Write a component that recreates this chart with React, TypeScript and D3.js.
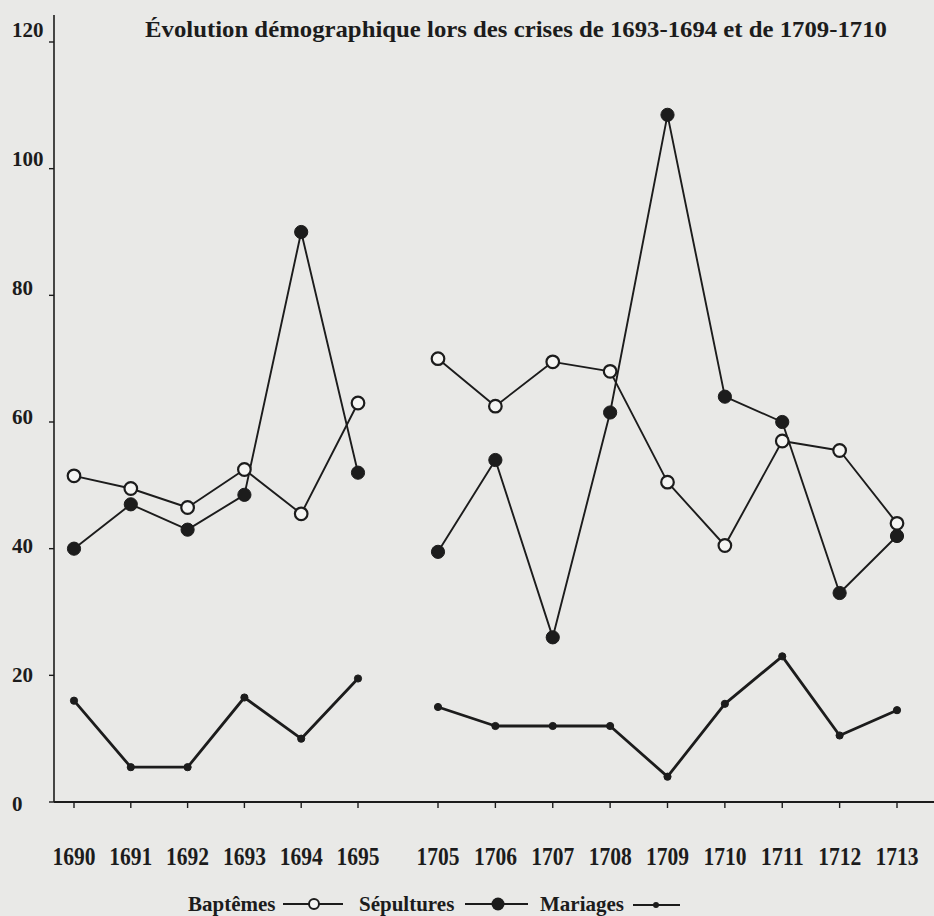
import React from 'react';
import * as d3 from 'd3';

const years = [1690, 1691, 1692, 1693, 1694, 1695, 1705, 1706, 1707, 1708, 1709, 1710, 1711, 1712, 1713];
const baptemes = [51.5, 49.5, 46.5, 52.5, 45.5, 63, 70, 62.5, 69.5, 68, 50.5, 40.5, 57, 55.5, 44];
const sepultures = [40, 47, 43, 48.5, 90, 52, 39.5, 54, 26, 61.5, 108.5, 64, 60, 33, 42];
const mariages = [16, 5.5, 5.5, 16.5, 10, 19.5, 15, 12, 12, 12, 4, 15.5, 23, 10.5, 14.5];
const yTicks = [0, 20, 40, 60, 80, 100, 120];
const title = 'Évolution démographique lors des crises de 1693-1694 et de 1709-1710';
const legendLabels = ['Baptêmes', 'Sépultures', 'Mariages'];

const W = 934;
const H = 916;
const FONT = '"Liberation Serif", "Times New Roman", serif';
const INK = '#1c1c1c';
const PAPER = '#e9e9e7';

export default function App() {
  const x = d3.scaleLinear().domain([1690, 1695, 1705, 1713]).range([74, 358, 438, 897]);
  const y = d3.scaleLinear().domain([0, 120]).range([802, 42]);
  // the printed tick labels sit on a slightly wider spacing than the tick marks
  const yLabel = d3.scaleLinear().domain([0, 120]).range([804, 30]);

  const periods = [
    years.map((yr, i) => i).filter((i) => years[i] < 1700),
    years.map((yr, i) => i).filter((i) => years[i] > 1700),
  ];

  const lineFor = (vals: number[]) => (idx: number[]) =>
    d3.line<number>().x((i) => x(years[i])).y((i) => y(vals[i]))(idx) || '';

  const series = [
    { vals: baptemes, kind: 'open' },
    { vals: sepultures, kind: 'filled' },
    { vals: mariages, kind: 'dot' },
  ];

  return (
    <svg width={W} height={H} style={{ position: 'absolute', left: 0, top: 0 }} fontFamily={FONT}>
      <rect x={0} y={0} width={W} height={H} fill={PAPER} />
      {/* title */}
      <text x={516} y={37} textAnchor="middle" fontSize={23} fontWeight="bold" fill={INK}
        textLength={742} lengthAdjust="spacingAndGlyphs">{title}</text>

      {/* axes */}
      <line x1={54} y1={15} x2={54} y2={y(0)} stroke={INK} strokeWidth={1.6} />
      <line x1={54} y1={y(0)} x2={W} y2={y(0)} stroke={INK} strokeWidth={1.8} />
      {yTicks.map((t) => (
        <g key={t}>
          <line x1={49} x2={54} y1={y(t)} y2={y(t)} stroke={INK} strokeWidth={1.4} />
          <text x={12} y={yLabel(t)} dominantBaseline="central" fontSize={21} fontWeight="bold" fill={INK}
            transform={`translate(0 0)`}>{t}</text>
        </g>
      ))}
      {years.map((yr) => (
        <g key={yr}>
          <line x1={x(yr)} x2={x(yr)} y1={y(0)} y2={y(0) + 6} stroke={INK} strokeWidth={1.4} />
          <text x={x(yr)} y={865} textAnchor="middle" fontSize={25} fontWeight="bold" fill={INK}
            textLength={43} lengthAdjust="spacingAndGlyphs">{yr}</text>
        </g>
      ))}

      {/* lines */}
      {series.map((s, si) =>
        periods.map((p, pi) => (
          <path key={`${si}-${pi}`} d={lineFor(s.vals)(p)} fill="none" stroke={INK}
            strokeWidth={s.kind === 'dot' ? 2.8 : 1.9} strokeLinejoin="round" />
        ))
      )}
      {/* markers */}
      {series.map((s, si) =>
        s.vals.map((v, i) => (
          <circle key={`m${si}-${i}`} cx={x(years[i])} cy={y(v)}
            r={s.kind === 'dot' ? 3.6 : s.kind === 'filled' ? 6.6 : 6.3}
            fill={s.kind === 'open' ? '#f5f5f3' : INK}
            stroke={INK} strokeWidth={s.kind === 'open' ? 2.2 : 1} />
        ))
      )}

      {/* legend */}
      <g fontSize={21} fontWeight="bold" fill={INK}>
        <text x={188} y={911}>{legendLabels[0]}</text>
        <line x1={283} x2={343} y1={904} y2={904} stroke={INK} strokeWidth={1.8} />
        <circle cx={314} cy={904} r={5} fill="#f5f5f3" stroke={INK} strokeWidth={2} />
        <text x={359} y={911}>{legendLabels[1]}</text>
        <line x1={465} x2={528} y1={904} y2={904} stroke={INK} strokeWidth={2.2} />
        <circle cx={498} cy={904} r={6.5} fill={INK} />
        <text x={540} y={911}>{legendLabels[2]}</text>
        <line x1={633} x2={680} y1={905} y2={905} stroke={INK} strokeWidth={2.2} />
        <circle cx={656} cy={905} r={3} fill={INK} />
      </g>
    </svg>
  );
}
